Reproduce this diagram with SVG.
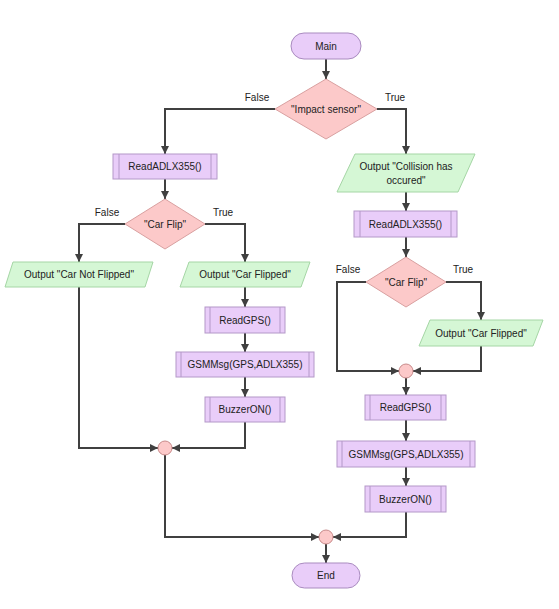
<svg xmlns="http://www.w3.org/2000/svg" width="559" height="609" viewBox="0 0 559 609">
<defs>
<marker id="arr" viewBox="0 0 10 10" refX="10" refY="5" markerWidth="8" markerHeight="8" markerUnits="userSpaceOnUse" orient="auto">
<path d="M0,0 L10,5 L0,10 Z" fill="#404040"/>
</marker>
<style>
text{font-family:"Liberation Sans",Arial,sans-serif;font-size:10px;fill:#222;text-anchor:middle;dominant-baseline:central}
.term{fill:#e9cdf9;stroke:#a98bbf;stroke-width:1}
.sub{fill:#e9cdf9;stroke:#b398c8;stroke-width:1}
.subl{stroke:#b398c8;stroke-width:1;fill:none}
.dec{fill:#fcc9c9;stroke:#d9a0a0;stroke-width:1}
.io{fill:#d5f7d5;stroke:#a5d6a5;stroke-width:1}
.jn{fill:#fcc9c9;stroke:#c88a8a;stroke-width:1}
.c{fill:none;stroke:#404040;stroke-width:2;marker-end:url(#arr)}
</style>
</defs>
<rect width="559" height="609" fill="#ffffff"/>

<g id="connectors">
<path class="c" d="M326,59 L326,79"/>
<path class="c" d="M275,109 L165,109 L165,154"/>
<path class="c" d="M377,109 L406,109 L406,154"/>
<path class="c" d="M165,179 L165,199"/>
<path class="c" d="M125,224 L79,224 L79,262"/>
<path class="c" d="M205,224 L245,224 L245,262"/>
<path class="c" d="M245,287 L245,307"/>
<path class="c" d="M245,333 L245,352"/>
<path class="c" d="M245,377 L245,397"/>
<path class="c" d="M245,422 L245,448 L172,448"/>
<path class="c" d="M79,287 L79,448 L158,448"/>
<path class="c" d="M165,455 L165,537 L319,537"/>
<path class="c" d="M406,192 L406,211"/>
<path class="c" d="M406,237 L406,257"/>
<path class="c" d="M366,282 L337,282 L337,371 L399,371"/>
<path class="c" d="M446,282 L481,282 L481,320"/>
<path class="c" d="M481,346 L481,371 L413,371"/>
<path class="c" d="M406,378 L406,395"/>
<path class="c" d="M406,420 L406,441"/>
<path class="c" d="M406,467 L406,486"/>
<path class="c" d="M406,512 L406,537 L333,537"/>
<path class="c" d="M326,544 L326,563"/>
<text x="257" y="97">False</text>
<text x="395" y="97">True</text>
<text x="107" y="212">False</text>
<text x="223" y="212">True</text>
<text x="348" y="269">False</text>
<text x="463" y="269">True</text>
</g>

<g id="main">
<rect class="term" x="291" y="33" width="70" height="26" rx="13"/>
<text x="326" y="46">Main</text>
</g>
<g id="impact">
<polygon class="dec" points="326,79 377,109 326,139 275,109"/>
<text x="326" y="109">"Impact sensor"</text>
</g>
<g id="readadlx-l">
<rect class="sub" x="113" y="154" width="104" height="25"/>
<path class="subl" d="M119,154 V179 M211,154 V179"/>
<text x="165" y="166.5">ReadADLX355()</text>
</g>
<g id="carflip-l">
<polygon class="dec" points="165,199 205,224 165,249 125,224"/>
<text x="165" y="224">"Car Flip"</text>
</g>
<g id="out-notflipped">
<polygon class="io" points="13,262 153,262 145,287 5,287"/>
<text x="79" y="274.5">Output "Car Not Flipped"</text>
</g>
<g id="out-flipped-l">
<polygon class="io" points="189,262 310,262 301,287 180,287"/>
<text x="245" y="274.5">Output "Car Flipped"</text>
</g>
<g id="readgps-l">
<rect class="sub" x="205" y="307" width="80" height="26"/>
<path class="subl" d="M210,307 V333 M280,307 V333"/>
<text x="245" y="320">ReadGPS()</text>
</g>
<g id="gsm-l">
<rect class="sub" x="176" y="352" width="138" height="25"/>
<path class="subl" d="M181,352 V377 M309,352 V377"/>
<text x="245" y="364.5">GSMMsg(GPS,ADLX355)</text>
</g>
<g id="buzzer-l">
<rect class="sub" x="205" y="397" width="80" height="25"/>
<path class="subl" d="M210,397 V422 M280,397 V422"/>
<text x="245" y="409.5">BuzzerON()</text>
</g>
<g id="join-l">
<circle class="jn" cx="165" cy="448" r="7"/>
</g>
<g id="out-collision">
<polygon class="io" points="355,154 475,154 458,192 337,192"/>
<text x="406" y="166">Output "Collision has</text>
<text x="406" y="180">occured"</text>
</g>
<g id="readadlx-r">
<rect class="sub" x="354" y="211" width="103" height="26"/>
<path class="subl" d="M360,211 V237 M451,211 V237"/>
<text x="405.5" y="224">ReadADLX355()</text>
</g>
<g id="carflip-r">
<polygon class="dec" points="406,257 446,282 406,307 366,282"/>
<text x="406" y="282">"Car Flip"</text>
</g>
<g id="out-flipped-r">
<polygon class="io" points="430,320 543,320 533,346 419,346"/>
<text x="481" y="333">Output "Car Flipped"</text>
</g>
<g id="join-r">
<circle class="jn" cx="406" cy="371" r="7"/>
</g>
<g id="readgps-r">
<rect class="sub" x="365" y="395" width="81" height="25"/>
<path class="subl" d="M370,395 V420 M441,395 V420"/>
<text x="405.5" y="407.5">ReadGPS()</text>
</g>
<g id="gsm-r">
<rect class="sub" x="337" y="441" width="138" height="26"/>
<path class="subl" d="M342,441 V467 M470,441 V467"/>
<text x="406" y="454">GSMMsg(GPS,ADLX355)</text>
</g>
<g id="buzzer-r">
<rect class="sub" x="365" y="486" width="81" height="26"/>
<path class="subl" d="M370,486 V512 M441,486 V512"/>
<text x="405.5" y="499">BuzzerON()</text>
</g>
<g id="join-end">
<circle class="jn" cx="326" cy="537" r="7"/>
</g>
<g id="end">
<rect class="term" x="292" y="563" width="68" height="25" rx="12.5"/>
<text x="326" y="575.5">End</text>
</g>
</svg>
